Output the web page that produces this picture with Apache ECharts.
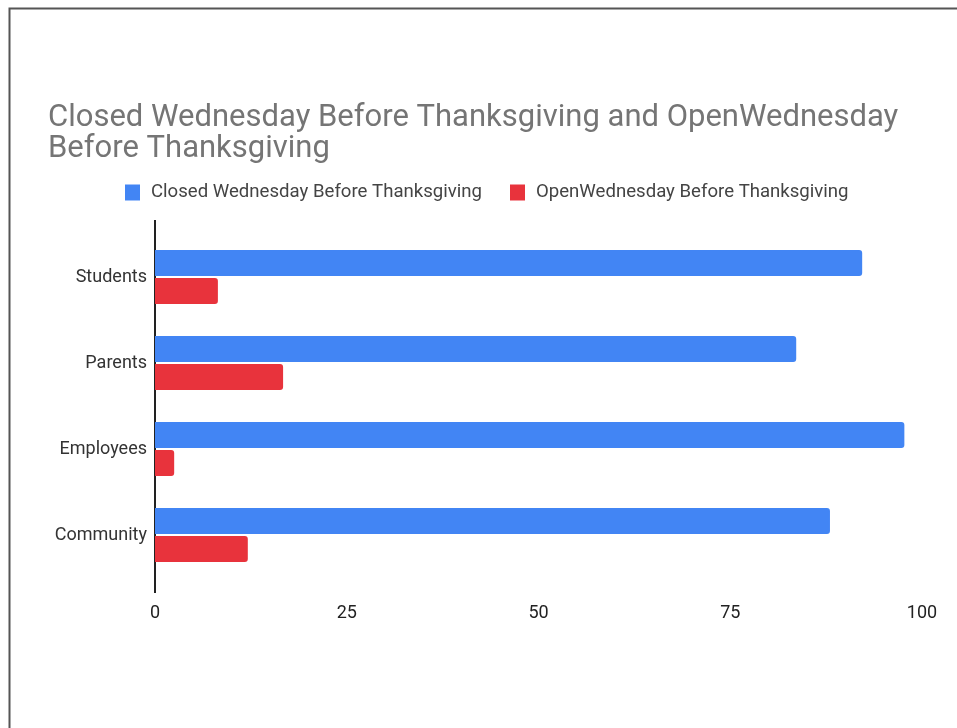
<!DOCTYPE html>
<html>
<head>
<meta charset="utf-8">
<script src="https://cdn.jsdelivr.net/npm/echarts@6/dist/echarts.min.js"></script>
<style>
html,body{margin:0;padding:0;background:#fff;}
#chart{width:957px;height:728px;}
</style>
</head>
<body>
<div id="chart"></div>
<script>
const titleText = 'Closed Wednesday Before Thanksgiving and OpenWednesday\nBefore Thanksgiving';
const categories = ['Students', 'Parents', 'Employees', 'Community'];
const seriesNames = ['Closed Wednesday Before Thanksgiving', 'OpenWednesday Before Thanksgiving'];
const closedValues = [92.2, 83.6, 97.7, 88.0];
const openValues = [8.2, 16.7, 2.5, 12.1];
const xTicks = [0, 25, 50, 75, 100];

const chart = echarts.init(document.getElementById('chart'));
chart.setOption({
  animation: false,
  backgroundColor: '#fff',
  title: {
    text: titleText,
    left: 43, top: 98,
    textStyle: { fontFamily: 'Roboto', fontSize: 31, fontWeight: 'normal', color: '#757575', lineHeight: 31 }
  },
  legend: {
    left: 120, top: 178,
    itemWidth: 15, itemHeight: 16, itemGap: 28,
    icon: 'rect',
    data: seriesNames,
    textStyle: { fontFamily: 'Roboto', fontSize: 18.6, color: '#444', padding: [0, 0, 0, 6] }
  },
  grid: { left: 155, right: 35, top: 234, bottom: 150, containLabel: false },
  xAxis: {
    type: 'value', min: xTicks[0], max: xTicks[xTicks.length - 1], interval: 25,
    axisLine: { show: false }, axisTick: { show: false },
    splitLine: { show: false },
    axisLabel: { fontFamily: 'Roboto', fontSize: 18, color: '#222', margin: 26 }
  },
  yAxis: {
    type: 'category', data: categories, inverse: true,
    axisLine: { show: true, lineStyle: { color: '#222', width: 2 } },
    axisTick: { show: false },
    axisLabel: { fontFamily: 'Roboto', fontSize: 18, color: '#333', margin: 8 }
  },
  series: [
    { name: seriesNames[0], type: 'bar', data: closedValues, barWidth: 26, barGap: '8%',
      itemStyle: { color: '#4285F4', borderRadius: [0, 3, 3, 0] } },
    { name: seriesNames[1], type: 'bar', data: openValues, barWidth: 26, barGap: '8%',
      itemStyle: { color: '#E8333C', borderRadius: [0, 3, 3, 0] } }
  ]
});
// frame of the scanned page and the baseline extended a little beyond the plot area
const gridRect = chart.getModel().getComponent('grid').coordinateSystem.getRect();
chart.setOption({
  graphic: [{
    type: 'rect', left: 7, top: 6,
    shape: { width: 1000, height: 800 },
    style: { fill: 'none', stroke: '#555', lineWidth: 2 }
  }, {
    type: 'line',
    shape: { x1: gridRect.x, y1: gridRect.y - 14, x2: gridRect.x, y2: gridRect.y + gridRect.height + 15 },
    style: { stroke: '#222', lineWidth: 2 }
  }]
});
</script>
</body>
</html>
